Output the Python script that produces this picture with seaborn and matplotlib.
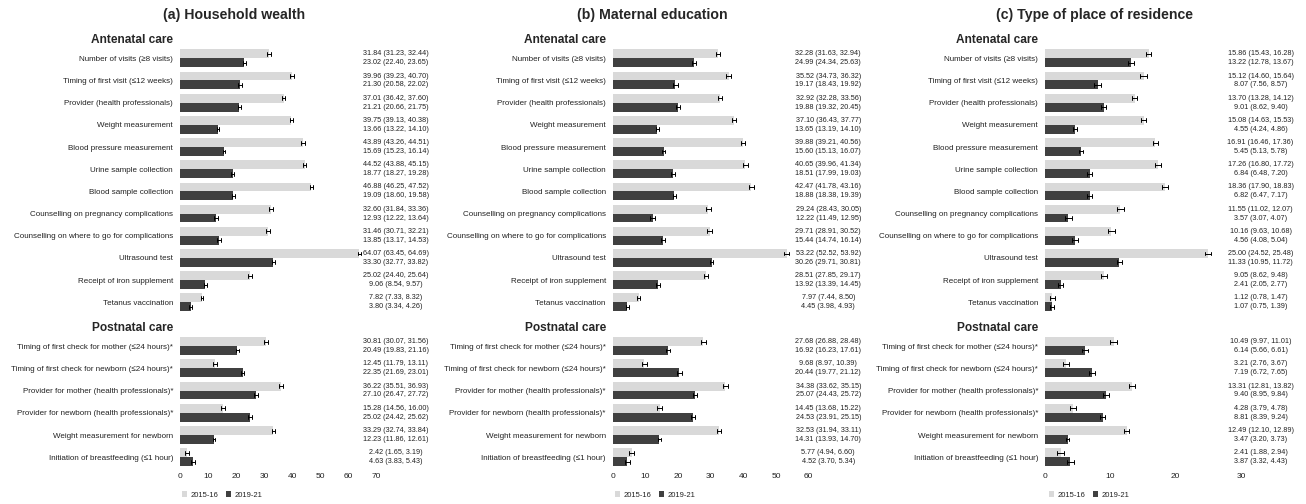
import numpy as np
import matplotlib.pyplot as plt
import pandas as pd
import seaborn as sns

antenatal = ['Number of visits (≥8 visits)', 'Timing of first visit (≤12 weeks)',
             'Provider (health professionals)', 'Weight measurement',
             'Blood pressure measurement', 'Urine sample collection',
             'Blood sample collection', 'Counselling on pregnancy complications',
             'Counselling on where to go for complications', 'Ultrasound test',
             'Receipt of iron supplement', 'Tetanus vaccination']
postnatal = ['Timing of first check for mother (≤24 hours)*',
             'Timing of first check for newborn (≤24 hours)*',
             'Provider for mother (health professionals)*',
             'Provider for newborn (health professionals)*',
             'Weight measurement for newborn',
             'Initiation of breastfeeding (≤1 hour)']
periods = ['2015-16', '2019-21']

# (estimate, lower, upper)
wealth_ante_1516 = [(31.84, 31.23, 32.44), (39.96, 39.23, 40.70), (37.01, 36.42, 37.60),
                    (39.75, 39.13, 40.38), (43.89, 43.26, 44.51), (44.52, 43.88, 45.15),
                    (46.88, 46.25, 47.52), (32.60, 31.84, 33.36), (31.46, 30.71, 32.21),
                    (64.07, 63.45, 64.69), (25.02, 24.40, 25.64), (7.82, 7.33, 8.32)]
wealth_ante_1921 = [(23.02, 22.40, 23.65), (21.30, 20.58, 22.02), (21.21, 20.66, 21.75),
                    (13.66, 13.22, 14.10), (15.69, 15.23, 16.14), (18.77, 18.27, 19.28),
                    (19.09, 18.60, 19.58), (12.93, 12.22, 13.64), (13.85, 13.17, 14.53),
                    (33.30, 32.77, 33.82), (9.06, 8.54, 9.57), (3.80, 3.34, 4.26)]
wealth_post_1516 = [(30.81, 30.07, 31.56), (12.45, 11.79, 13.11), (36.22, 35.51, 36.93),
                    (15.28, 14.56, 16.00), (33.29, 32.74, 33.84), (2.42, 1.65, 3.19)]
wealth_post_1921 = [(20.49, 19.83, 21.16), (22.35, 21.69, 23.01), (27.10, 26.47, 27.72),
                    (25.02, 24.42, 25.62), (12.23, 11.86, 12.61), (4.63, 3.83, 5.43)]

edu_ante_1516 = [(32.28, 31.63, 32.94), (35.52, 34.73, 36.32), (32.92, 32.28, 33.56),
                 (37.10, 36.43, 37.77), (39.88, 39.21, 40.56), (40.65, 39.96, 41.34),
                 (42.47, 41.78, 43.16), (29.24, 28.43, 30.05), (29.71, 28.91, 30.52),
                 (53.22, 52.52, 53.92), (28.51, 27.85, 29.17), (7.97, 7.44, 8.50)]
edu_ante_1921 = [(24.99, 24.34, 25.63), (19.17, 18.43, 19.92), (19.88, 19.32, 20.45),
                 (13.65, 13.19, 14.10), (15.60, 15.13, 16.07), (18.51, 17.99, 19.03),
                 (18.88, 18.38, 19.39), (12.22, 11.49, 12.95), (15.44, 14.74, 16.14),
                 (30.26, 29.71, 30.81), (13.92, 13.39, 14.45), (4.45, 3.98, 4.93)]
edu_post_1516 = [(27.68, 26.88, 28.48), (9.68, 8.97, 10.39), (34.38, 33.62, 35.15),
                 (14.45, 13.68, 15.22), (32.53, 31.94, 33.11), (5.77, 4.94, 6.60)]
edu_post_1921 = [(16.92, 16.23, 17.61), (20.44, 19.77, 21.12), (25.07, 24.43, 25.72),
                 (24.53, 23.91, 25.15), (14.31, 13.93, 14.70), (4.52, 3.70, 5.34)]

res_ante_1516 = [(15.86, 15.43, 16.28), (15.12, 14.60, 15.64), (13.70, 13.28, 14.12),
                 (15.08, 14.63, 15.53), (16.91, 16.46, 17.36), (17.26, 16.80, 17.72),
                 (18.36, 17.90, 18.83), (11.55, 11.02, 12.07), (10.16, 9.63, 10.68),
                 (25.00, 24.52, 25.48), (9.05, 8.62, 9.48), (1.12, 0.78, 1.47)]
res_ante_1921 = [(13.22, 12.78, 13.67), (8.07, 7.56, 8.57), (9.01, 8.62, 9.40),
                 (4.55, 4.24, 4.86), (5.45, 5.13, 5.78), (6.84, 6.48, 7.20),
                 (6.82, 6.47, 7.17), (3.57, 3.07, 4.07), (4.56, 4.08, 5.04),
                 (11.33, 10.95, 11.72), (2.41, 2.05, 2.77), (1.07, 0.75, 1.39)]
res_post_1516 = [(10.49, 9.97, 11.01), (3.21, 2.76, 3.67), (13.31, 12.81, 13.82),
                 (4.28, 3.79, 4.78), (12.49, 12.10, 12.89), (2.41, 1.88, 2.94)]
res_post_1921 = [(6.14, 5.66, 6.61), (7.19, 6.72, 7.65), (9.40, 8.95, 9.84),
                 (8.81, 8.39, 9.24), (3.47, 3.20, 3.73), (3.87, 3.32, 4.43)]

titles = ['(a) Household wealth', '(b) Maternal education', '(c) Type of place of residence']
x_ticks = [[0, 10, 20, 30, 40, 50, 60, 70], [0, 10, 20, 30, 40, 50, 60], [0, 10, 20, 30]]

sns.set_style('white')
plt.rcParams['font.family'] = ['Liberation Sans', 'DejaVu Sans']

W, H = 1306, 504
fig = plt.figure(figsize=(W / 100, H / 100), dpi=100)
colors = ['#d9d9d9', '#404040']


def make_df(items, v1516, v1921):
    rows = []
    for per, vals in zip(periods, (v1516, v1921)):
        for item, trio in zip(items, vals):
            for v in trio:
                rows.append({'item': item, 'period': per, 'value': v})
    return pd.DataFrame(rows)


def draw(ax, items, v1516, v1921, ticks, header):
    df = make_df(items, v1516, v1921)
    sns.barplot(data=df, x='value', y='item', hue='period', order=items,
                hue_order=periods, palette=colors, saturation=1, width=0.8,
                estimator='median', errorbar=lambda v: (v.min(), v.max()),
                capsize=0.35, err_kws={'color': 'black', 'linewidth': 0.7},
                linewidth=0, legend=False, ax=ax)
    for cont, vals in zip(ax.containers, (v1516, v1921)):
        for bar, (m, lo, hi) in zip(cont, vals):
            ax.text(1.10, bar.get_y() + bar.get_height() / 2,
                    f'{m:.2f} ({lo:.2f}, {hi:.2f})', transform=ax.get_yaxis_transform(),
                    ha='center', va='center', fontsize=5.2, color='#222222')
    ax.set_xlim(0, ticks[-1])
    ax.set_xlabel('')
    ax.set_ylabel('')
    sns.despine(ax=ax, left=True, bottom=True)
    ax.tick_params(axis='y', length=0, pad=5, labelsize=5.8, labelcolor='#222222')
    ax.tick_params(axis='x', length=0, pad=3, labelsize=6, labelcolor='#222222')
    ax.annotate(header, xy=(0, 1), xycoords='axes fraction', xytext=(-5, 5),
                textcoords='offset points', ha='right', va='center',
                fontweight='bold', fontsize=8.6)


def px_axes(x0, y_top, w, h):
    return fig.add_axes([x0 / W, 1 - (y_top + h) / H, w / W, h / H])


panel_x = [180, 612.7, 1045]
title_x = [234, 652, 1094.7]
legend_x = [222, 655, 1089]
data = [(wealth_ante_1516, wealth_ante_1921, wealth_post_1516, wealth_post_1921),
        (edu_ante_1516, edu_ante_1921, edu_post_1516, edu_post_1921),
        (res_ante_1516, res_ante_1921, res_post_1516, res_post_1921)]

for k in range(3):
    a1516, a1921, p1516, p1921 = data[k]
    ax_a = px_axes(panel_x[k], 47.2, 196, 266.2)
    draw(ax_a, antenatal, a1516, a1921, x_ticks[k], 'Antenatal care')
    ax_a.set_xticks([])
    ax_p = px_axes(panel_x[k], 334.9, 196, 133.5)
    draw(ax_p, postnatal, p1516, p1921, x_ticks[k], 'Postnatal care')
    ax_p.set_xticks(x_ticks[k])
    fig.text(title_x[k] / W, 1 - 15 / H, titles[k], ha='center', va='center',
             fontweight='bold', fontsize=10.2)
    ax_p.legend(ax_p.containers[:2], periods, loc='center', ncol=2, frameon=False,
                bbox_to_anchor=(legend_x[k] / W, 1 - 495 / H),
                bbox_transform=fig.transFigure, fontsize=5.5, handlelength=0.7,
                handleheight=0.7, handletextpad=0.4, columnspacing=1.0,
                labelcolor='#222222')

fig.savefig('out.png', dpi=100)
